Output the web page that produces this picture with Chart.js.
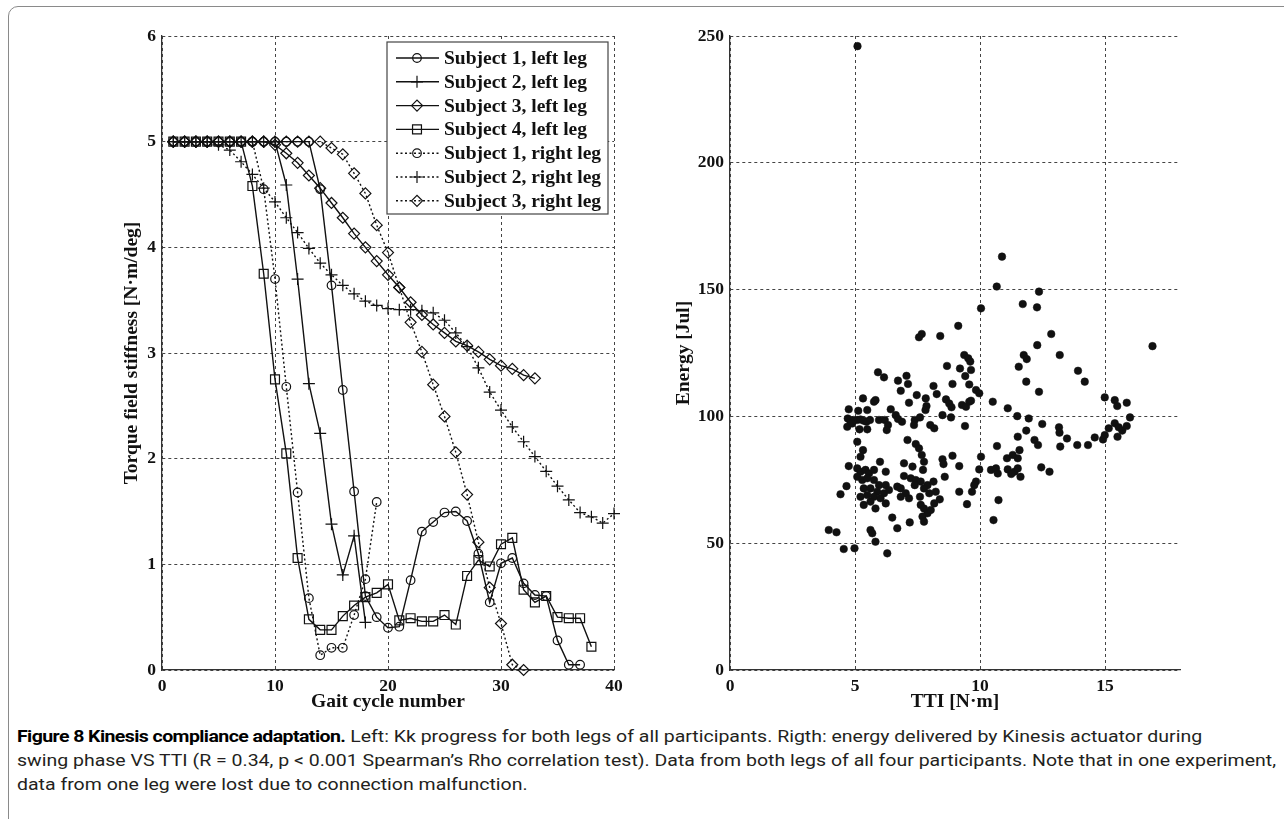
<!DOCTYPE html>
<html>
<head>
<meta charset="utf-8">
<script src="https://cdn.jsdelivr.net/npm/chart.js@4.4.1/dist/chart.umd.min.js"></script>
<style>
body { margin: 0; background: #fff; width: 1284px; height: 819px; overflow: hidden; position: relative; }
#frame { position: absolute; left: 8px; top: 6px; width: 1320px; height: 860px; border: 1px solid #8a8a8a; border-radius: 10px; }
#left { position: absolute; left: 112px; top: 0; }
#right { position: absolute; left: 660px; top: 0; }
#caption { position: absolute; left: 17px; top: 724px; font-family: Roboto, sans-serif; font-size: 17px; line-height: 24px; color: #231f20; white-space: nowrap; transform-origin: 0 0; }
#caption b { font-weight: 700; color: #000; letter-spacing: -0.5px; }
#caption span { display: inline-block; }
</style>
</head>
<body>
<div id="frame"></div>
<canvas id="left" width="528" height="720"></canvas>
<canvas id="right" width="560" height="720"></canvas>
<div id="caption">
  <span id="cap1"><b>Figure 8 Kinesis compliance adaptation.</b> Left: Kk progress for both legs of all participants. Rigth: energy delivered by Kinesis actuator during</span><br>
  <span id="cap2">swing phase VS TTI (R = 0.34, p &lt; 0.001 Spearman’s Rho correlation test). Data from both legs of all four participants. Note that in one experiment,</span><br>
  <span id="cap3">data from one leg were lost due to connection malfunction.</span>
</div>
<script>
// left panel: stiffness per gait cycle (cycle = index + 1)
const s1Left = [5,5,5,5,5,5,5,5,5,5,5,5,5,4.55,3.64,2.65,1.69,0.7,0.5,0.4,0.41,0.85,1.31,1.4,1.49,1.5,1.41,1.1,0.64,1.01,1.06,0.82,0.71,0.7,0.28,0.05,0.05];
const s2Left = [5,5,5,5,5,5,5,5,5,5,4.59,3.7,2.71,2.24,1.38,0.9,1.27,0.45];
const s3Left = [5,5,5,5,5,5,5,5,5,4.97,4.89,4.8,4.68,4.56,4.42,4.28,4.13,4.0,3.87,3.74,3.62,3.48,3.36,3.27,3.19,3.11,3.07,3.01,2.94,2.88,2.85,2.79,2.76];
const s4Left = [5,5,5,5,5,5,5,4.58,3.75,2.75,2.05,1.06,0.48,0.38,0.38,0.51,0.61,0.69,0.73,0.81,0.47,0.49,0.46,0.46,0.52,0.43,0.89,1.04,0.98,1.19,1.25,0.76,0.64,0.7,0.5,0.49,0.49,0.22];
const s1Right = [5,5,5,5,5,5,5,5,4.55,3.7,2.68,1.68,0.68,0.14,0.21,0.21,0.52,0.86,1.59];
const s2Right = [5,5,5,5,4.97,4.92,4.81,4.69,4.56,4.43,4.28,4.14,3.99,3.85,3.74,3.64,3.56,3.49,3.45,3.42,3.41,3.41,3.4,3.38,3.31,3.19,3.06,2.86,2.63,2.46,2.3,2.16,2.02,1.88,1.74,1.61,1.49,1.45,1.39,1.48];
const s3Right = [5,5,5,5,5,5,5,5,5,5,5,5,5,5,4.94,4.88,4.7,4.51,4.21,3.95,3.62,3.29,3.01,2.7,2.4,2.06,1.66,1.21,0.78,0.44,0.05,0.0];
const seriesNames = ['Subject 1, left leg','Subject 2, left leg','Subject 3, left leg','Subject 4, left leg','Subject 1, right leg','Subject 2, right leg','Subject 3, right leg'];
const gaitTicks = [0,10,20,30,40];
const stiffTicks = [0,1,2,3,4,5,6];

// right panel: energy vs TTI
const tti = [9.37,9.53,9.61,8.68,9.20,9.64,9.41,5.92,6.16,7.06,6.72,7.12,6.83,8.90,8.14,8.27,9.57,9.84,9.97,7.47,
  7.83,7.16,7.86,7.82,8.64,8.77,8.86,9.28,9.44,9.57,9.64,5.32,5.82,5.76,6.43,6.63,6.72,4.75,5.13,5.49,
  4.71,4.82,4.95,5.09,5.22,5.35,5.46,5.60,4.69,4.89,5.96,6.19,6.32,6.27,5.18,5.49,6.88,7.39,7.60,7.36,
  8.50,8.84,8.01,8.17,9.40,10.51,11.11,11.49,11.95,12.49,13.16,13.21,11.85,11.51,12.18,12.32,10.68,11.58,11.08,11.31,
  11.51,10.44,10.64,10.71,11.11,11.38,11.51,11.62,11.25,12.45,12.78,10.74,10.54,10.04,9.97,9.84,9.77,9.68,9.48,9.17,
  8.90,9.17,8.50,8.54,8.59,7.10,7.43,7.56,7.67,7.76,7.72,5.09,5.32,5.22,4.75,5.09,5.22,5.42,5.56,5.76,
  6.00,6.23,5.09,5.29,5.49,5.76,5.96,6.23,5.35,5.62,5.89,6.16,6.36,5.22,5.49,5.76,6.02,6.23,5.35,5.82,
  5.62,4.66,4.42,6.96,7.30,6.96,7.23,7.43,7.63,7.90,8.14,7.39,7.76,6.69,6.83,7.03,7.16,6.83,7.60,7.97,
  8.23,8.39,8.17,7.63,7.76,7.90,8.03,7.70,7.76,6.49,6.69,7.19,3.95,4.26,5.62,5.69,5.82,4.55,4.98,6.29,
  12.29,13.19,11.75,11.87,11.55,11.85,12.36,16.90,13.92,14.19,14.99,15.39,15.49,15.87,13.48,13.89,14.32,14.59,14.92,14.99,
  15.15,15.39,15.55,15.69,15.87,16.00,15.50,13.18,10.88,10.67,10.04,12.36,11.71,12.28,12.85,9.13,8.41,7.67,7.56,5.1];
const energy = [124.2,122.9,121.6,119.9,118.9,118.3,115.9,117.4,115.4,116.0,114.1,112.8,110.1,112.8,112.0,108.8,112.6,110.4,109.1,108.4,
  107.1,105.4,104.1,102.5,106.7,105.1,103.6,104.5,103.8,105.8,106.2,107.1,106.4,105.8,102.8,100.5,99.0,102.8,102.2,102.5,
  99.2,97.9,98.6,98.6,98.8,98.3,97.9,98.6,95.9,97.2,98.6,98.6,96.6,94.6,94.9,94.9,97.9,98.6,99.6,96.6,
  100.5,99.6,96.6,95.3,96.2,105.8,103.2,100.1,99.2,97.0,95.7,88.1,94.4,92.0,90.7,88.7,88.3,86.7,83.5,84.8,
  83.5,78.9,79.5,77.5,79.1,78.2,79.5,76.2,77.3,79.9,78.2,67.0,59.1,84.1,79.1,74.3,72.9,70.3,65.4,70.3,
  84.5,80.4,83.1,81.2,76.2,90.7,89.1,87.4,84.8,82.1,78.9,90.0,86.7,84.1,80.4,79.5,78.2,78.9,77.5,78.9,
  82.1,78.2,76.2,74.9,75.6,74.9,72.9,72.9,71.6,71.6,70.3,69.7,71.0,68.3,69.0,68.3,67.7,65.7,65.1,63.7,
  66.4,72.5,69.3,81.5,80.2,76.5,75.6,74.9,74.3,72.9,74.3,72.9,71.6,72.3,71.6,69.7,67.7,68.3,68.3,69.7,
  70.3,67.3,65.7,65.1,63.7,61.8,63.1,60.5,58.5,60.1,55.9,58.2,55.2,54.3,55.2,53.9,50.6,47.7,48.0,46.0,
  128.1,124.2,124.2,122.6,119.6,113.7,109.7,127.7,118.0,113.7,107.5,106.4,104.1,105.4,91.3,88.7,88.7,91.7,90.9,92.6,
  95.3,97.3,95.7,94.4,96.2,99.6,92.0,93.6,163.0,151.2,142.6,149.2,144.3,143.0,132.5,135.7,131.7,132.5,131.2,246];
const ttiTicks = [0,5,10,15];
const energyTicks = [0,50,100,150,200,250];

const ink = '#111';
const serif = 'Liberation Serif';
const tickFont = { family: serif, size: 17.5, weight: 'bold' };
const titleFont = { family: serif, size: 19.5, weight: 'bold' };

function series(vals) {
  return vals.map((v, i) => ({ x: i + 1, y: v }));
}

function lineSet(label, vals, style, radius, dotted) {
  return {
    label: label,
    data: series(vals),
    borderColor: ink,
    borderWidth: 1.4,
    borderDash: dotted ? [2, 2.5] : [],
    pointStyle: style,
    pointRadius: radius,
    pointBorderColor: ink,
    pointBackgroundColor: 'rgba(0,0,0,0)',
    pointBorderWidth: 1.2,
    tension: 0,
    fill: false,
    clip: false
  };
}

function axis(min, max, ticks, title, fitSize, horizontal, titlePad) {
  return {
    type: 'linear', min: min, max: max,
    afterBuildTicks: s => { s.ticks = ticks.map(v => ({ value: v })); },
    ticks: { color: ink, font: tickFont, padding: 6 },
    grid: { color: '#444', lineWidth: 1, drawTicks: false },
    border: { display: true, color: '#333', width: 1.3, dash: [3, 3] },
    title: { display: true, text: title, color: ink, font: titleFont, padding: titlePad },
    afterFit: s => { if (horizontal) s.height = fitSize; else s.width = fitSize; }
  };
}

//legend drawn inside the plot, like the matlab box
const legendBox = {
  id: 'legendBox',
  afterDraw(chart) {
    const ctx = chart.ctx;
    const a = chart.chartArea;
    const w = 221, h = 172;
    const x0 = a.right - 6 - w, y0 = a.top + 6;
    ctx.save();
    ctx.fillStyle = '#fff';
    ctx.fillRect(x0, y0, w, h);
    ctx.strokeStyle = '#444';
    ctx.lineWidth = 1.2;
    ctx.strokeRect(x0, y0, w, h);
    chart.data.datasets.forEach((ds, i) => {
      const y = y0 + 16 + i * 23.8;
      ctx.strokeStyle = ink;
      ctx.lineWidth = ds.borderWidth;
      ctx.setLineDash(ds.borderDash);
      ctx.beginPath();
      ctx.moveTo(x0 + 9, y);
      ctx.lineTo(x0 + 52, y);
      ctx.stroke();
      ctx.setLineDash([]);
      ctx.lineWidth = ds.pointBorderWidth;
      ctx.fillStyle = 'rgba(0,0,0,0)';
      Chart.helpers.drawPoint(ctx, { pointStyle: ds.pointStyle, radius: ds.pointRadius, borderWidth: ds.pointBorderWidth, rotation: 0 }, x0 + 30, y);
      ctx.fillStyle = ink;
      ctx.font = 'bold 19.5px "' + serif + '"';
      ctx.textBaseline = 'middle';
      ctx.textAlign = 'left';
      ctx.fillText(ds.label, x0 + 57, y + 1);
    });
    ctx.restore();
  }
};

new Chart(document.getElementById('left'), {
  type: 'line',
  data: {
    datasets: [
      lineSet(seriesNames[0], s1Left, 'circle', 4.3, false),
      lineSet(seriesNames[1], s2Left, 'cross', 6, false),
      lineSet(seriesNames[2], s3Left, 'rectRot', 5.5, false),
      lineSet(seriesNames[3], s4Left, 'rect', 6.3, false),
      lineSet(seriesNames[4], s1Right, 'circle', 4.3, true),
      lineSet(seriesNames[5], s2Right, 'cross', 6, true),
      lineSet(seriesNames[6], s3Right, 'rectRot', 5.5, true)
    ]
  },
  options: {
    responsive: false,
    animation: false,
    layout: { padding: { top: 36, right: 26, left: 0, bottom: 0 } },
    plugins: { legend: { display: false }, tooltip: { enabled: false } },
    scales: {
      x: axis(0, 40, gaitTicks, 'Gait cycle number', 50, true, { top: 0, bottom: 6 }),
      y: axis(0, 6, stiffTicks, 'Torque field stiffness [N·m/deg]', 50, false, { top: 8, bottom: 0 })
    }
  },
  plugins: [legendBox]
});

new Chart(document.getElementById('right'), {
  type: 'scatter',
  data: {
    datasets: [{
      data: tti.map((v, i) => ({ x: v, y: energy[i] })),
      pointRadius: 3.8,
      pointBackgroundColor: ink,
      pointBorderColor: ink,
      pointBorderWidth: 0.5,
      clip: false
    }]
  },
  options: {
    responsive: false,
    animation: false,
    layout: { padding: { top: 36, right: 40, left: 0, bottom: 0 } },
    plugins: { legend: { display: false }, tooltip: { enabled: false } },
    scales: {
      x: axis(0, 18, ttiTicks, 'TTI [N·m]', 50, true, { top: 0, bottom: 6 }),
      y: axis(0, 250, energyTicks, 'Energy [Jul]', 70, false, { top: 12, bottom: 0 })
    }
  }
});

// squeeze the caption so the long line fits like the printed one
const cap2 = document.getElementById('cap2');
const k = 1259 / cap2.getBoundingClientRect().width;
document.getElementById('caption').style.transform = 'scaleX(' + k + ')';
</script>
</body>
</html>
